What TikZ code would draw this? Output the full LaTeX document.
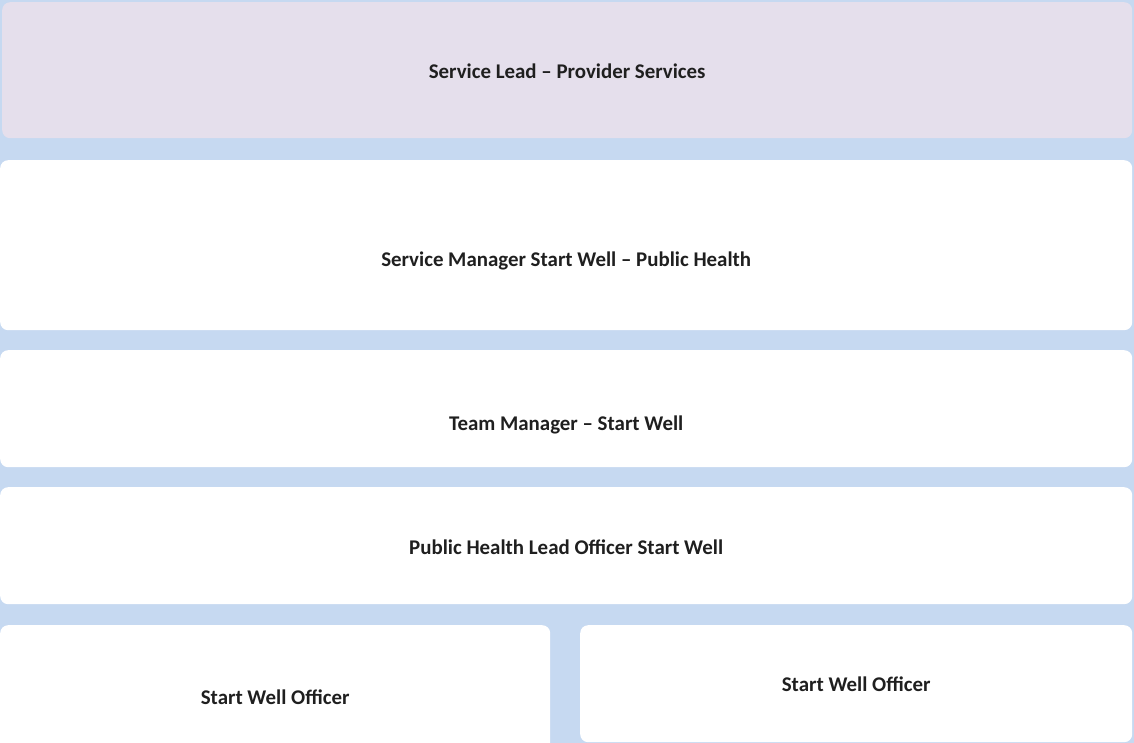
\documentclass[tikz,border=0pt]{standalone}
\usepackage{fontspec}
\setmainfont{Carlito}
\usetikzlibrary{positioning}
\definecolor{bgblue}{HTML}{C6D9F1}
\definecolor{lavender}{HTML}{E5DFEC}
\tikzset{x = 1pt, y = -1pt,
         every node/.style = {font = \fontsize{20.9}{24}\selectfont\bfseries, text = black!88},
         box/.style = {fill = white, rounded corners = 8pt, anchor = north west,
                       inner sep = 0pt}}

\begin{document}
\begin{tikzpicture}
        \fill[bgblue] (0,0) rectangle (1134,743);
        \useasboundingbox (0,0) rectangle (1134,743);

        \node[box, fill = lavender, minimum width = 1130pt, minimum height = 136pt]
                                       (lead)    at (2,2)     {};
        \node[box, minimum width = 1132pt, minimum height = 170pt]
                                       (manager) at (0,160)   {};
        \node[box, minimum width = 1132pt, minimum height = 117pt]
                                       (team)    at (0,350)   {};
        \node[box, minimum width = 1132pt, minimum height = 117pt]
                                       (leadoff) at (0,487)   {};
        \node[box, minimum width = 550pt, minimum height = 144pt]
                                       (swoa)    at (0,625)   {};
        \node[box, minimum width = 552pt, minimum height = 117pt]
                                       (swob)    at (580,625) {};

        \node (leadtxt)    at ([yshift=-1pt]lead.center)     {Service Lead -- Provider Services};
        \node (managertxt) at ([yshift=-16pt]manager.center) {Service Manager Start Well -- Public Health};
        \node (teamtxt)    at ([yshift=-16pt]team.center)    {Team Manager -- Start Well};
        \node (leadofftxt) at ([yshift=-2pt]leadoff.center)  {Public Health Lead Officer Start Well};
        \node (swoatxt)    at (swoa.center)                  {Start Well Officer};
        \node (swobtxt)    at ([yshift=-1pt]swob.center)     {Start Well Officer};
      \end{tikzpicture}
\end{document}
